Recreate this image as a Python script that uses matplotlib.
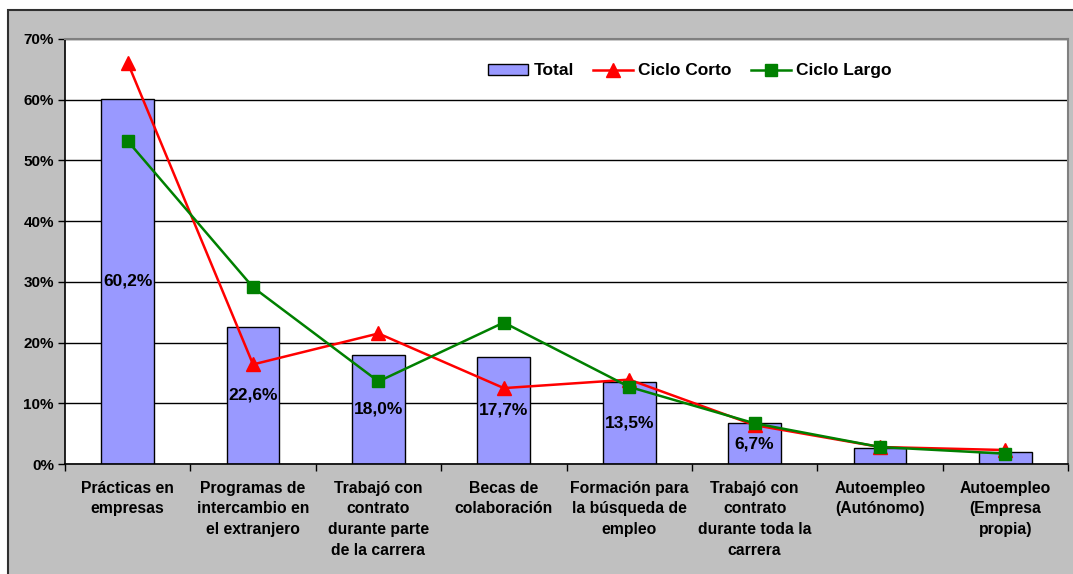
import matplotlib.pyplot as plt
import matplotlib.patches as mpatches
import matplotlib.ticker as mtick
import numpy as np

# --- Data ----------------------------------------------------------------
categories = [
    "Prácticas en\nempresas",
    "Programas de\nintercambio en\nel extranjero",
    "Trabajó con\ncontrato\ndurante parte\nde la carrera",
    "Becas de\ncolaboración",
    "Formación para\nla búsqueda de\nempleo",
    "Trabajó con\ncontrato\ndurante toda la\ncarrera",
    "Autoempleo\n(Autónomo)",
    "Autoempleo\n(Empresa\npropia)",
]
total = [60.2, 22.6, 18.0, 17.7, 13.5, 6.7, 2.6, 1.9]
total_labels = ["60,2%", "22,6%", "18,0%", "17,7%", "13,5%", "6,7%", None, None]
ciclo_corto = [66.1, 16.4, 21.5, 12.5, 13.9, 6.4, 2.8, 2.3]
ciclo_largo = [53.2, 29.1, 13.6, 23.3, 12.7, 6.7, 2.8, 1.7]

BAR = "#9999ff"
RED = "#ff0000"
GREEN = "#008000"
BG = "#c0c0c0"

plt.rcParams.update({
    "font.family": ["Liberation Sans", "DejaVu Sans"],
    "font.weight": "bold",
})

W, H = 1073, 574
fig = plt.figure(figsize=(W / 100, H / 100), dpi=100, facecolor="white")

# gray chart area with a dark frame (only top/left edges visible)
frame = mpatches.Rectangle(
    (8 / W, -0.2), 1.5, 1 - 10 / H + 0.2, transform=fig.transFigure,
    facecolor=BG, edgecolor="#303030", linewidth=1.5, zorder=-10)
fig.patches.append(frame)

ax = fig.add_axes([65 / W, 1 - 464 / H, (1068 - 65) / W, (464 - 39) / H])
ax.set_zorder(5)
ax.set_facecolor("white")

x = np.arange(len(categories))
bars = ax.bar(x, total, width=0.42, color=BAR, edgecolor="black",
              linewidth=1.0, label="Total", zorder=2)
for xi, v, lab in zip(x, total, total_labels):
    if lab:
        ax.text(xi, v / 2, lab, ha="center", va="center",
                fontsize=12.5, fontweight="bold", zorder=5)

l1, = ax.plot(x, ciclo_corto, color=RED, linewidth=1.8, marker="^",
              markersize=9.5, label="Ciclo Corto", zorder=3)
l2, = ax.plot(x, ciclo_largo, color=GREEN, linewidth=1.8, marker="s",
              markersize=8.5, label="Ciclo Largo", zorder=4)

ax.set_xlim(-0.5, len(categories) - 0.5)
ax.set_ylim(0, 70)
ax.set_yticks(np.arange(0, 71, 10))
ax.yaxis.set_major_formatter(mtick.PercentFormatter(xmax=100, decimals=0))
ax.grid(True, axis="y", color="black", linewidth=1.0, zorder=1)
ax.set_axisbelow(True)

ax.set_xticks(x)
ax.set_xticklabels(categories, fontsize=11.3, fontweight="bold", linespacing=1.48,
                   va="top")
ax.tick_params(axis="x", length=0, pad=12)
ax.set_xticks(np.arange(-0.5, len(categories)), minor=True)
ax.tick_params(axis="x", which="minor", length=5, width=1, direction="out")
ax.tick_params(axis="y", length=5, width=1, direction="out", labelsize=11, pad=3)

for side in ("top", "right"):
    ax.spines[side].set_color("#808080")
    ax.spines[side].set_linewidth(1.5)
for side in ("left", "bottom"):
    ax.spines[side].set_color("black")
    ax.spines[side].set_linewidth(1.2)

ax.legend(handles=[bars, l1, l2], loc="center", bbox_to_anchor=(0.623, 0.925),
          ncol=3, frameon=False, prop={"size": 12.5, "weight": "bold"},
          handlelength=2.3, handleheight=0.6, handletextpad=0.3,
          columnspacing=1.1)

fig.savefig("out.png", dpi=100, facecolor=fig.get_facecolor())
